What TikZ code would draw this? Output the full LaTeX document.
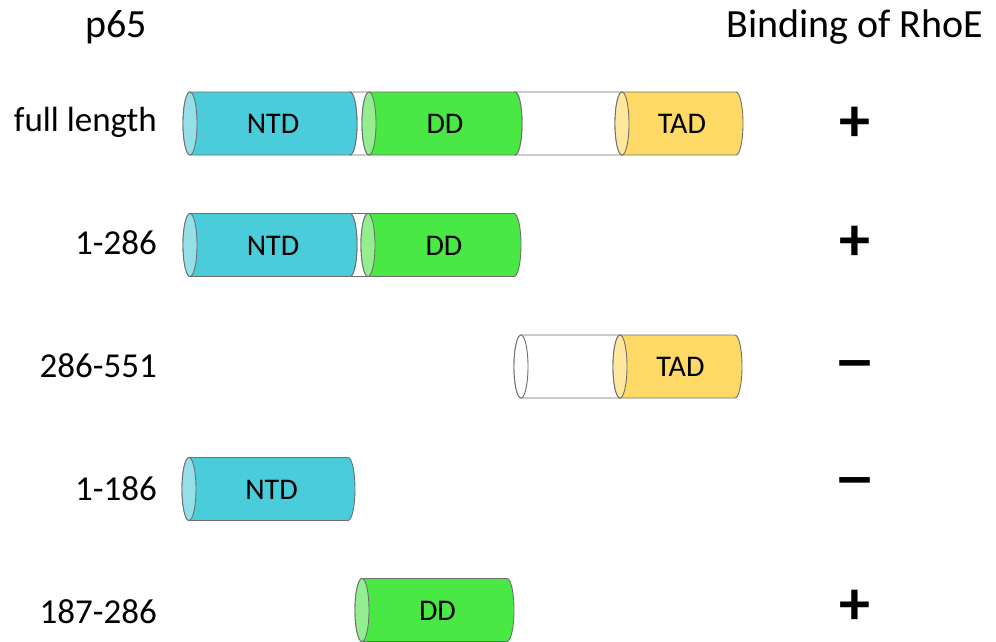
\documentclass[tikz,border=0pt]{standalone}
\usepackage{fontspec}
\setmainfont{Carlito}
\definecolor{ntdbody}{HTML}{4BCCDA}
\definecolor{ntdend}{HTML}{95DFE8}
\definecolor{ddbody}{HTML}{4AE845}
\definecolor{ddend}{HTML}{94EE90}
\definecolor{tadbody}{HTML}{FFD966}
\definecolor{tadend}{HTML}{FFE79E}
\definecolor{rim}{HTML}{6E6E6E}
\newcommand\mycyl[7]{% name, xl, xr, cy, bodycolor, endcolor, label
  \filldraw[cylline, fill=#5] (#2,-#4+31.5) -- (#3,-#4+31.5)
    arc[start angle=90, end angle=-90, x radius=7pt, y radius=31.5pt]
    -- (#2,-#4-31.5)
    arc[start angle=270, end angle=90, x radius=7pt, y radius=31.5pt] -- cycle;
  \filldraw[cylline, fill=#6] (#2,-#4) ellipse[x radius=7pt, y radius=31.5pt];
  \node[domlabel] (#1) at ({(#2+#3)/2+3},-#4-10) {#7};
}
\newcommand\widedash{\scalebox{1.35}[1.0]{–}}
\begin{document}
\begin{tikzpicture}[x=1pt,y=1pt,
  cylline/.style={draw=rim, line width=0.9pt},
  domlabel/.style={anchor=base, inner sep=0pt, font=\fontsize{30}{36}\selectfont},
  rowlabel/.style={anchor=base east, inner sep=0pt, font=\fontsize{35}{42}\selectfont},
  header/.style={anchor=base, inner sep=0pt, font=\fontsize{40}{48}\selectfont},
  plussign/.style={inner sep=0pt, font=\fontsize{62}{70}\selectfont\bfseries},
  minussign/.style={inner sep=0pt, font=\fontsize{64}{72}\selectfont\bfseries}]
\useasboundingbox (0,0) rectangle (996,-642);
% headers
\node[header] (hp65) at (116,-38) {p65};
\node[header] (hbind) at (855,-38) {Binding of RhoE};
% row labels
\node[rowlabel] (l1) at (157,-131) {full length};
\node[rowlabel] (l2) at (157,-254) {1-286};
\node[rowlabel] (l3) at (157,-377) {286-551};
\node[rowlabel] (l4) at (157,-500) {1-186};
\node[rowlabel] (l5) at (157,-623) {187-286};
% row 1
\mycyl{w1a}{350}{369}{123.5}{white}{white}{}
\mycyl{w1b}{515}{622}{123.5}{white}{white}{}
\mycyl{ntd1}{190}{350}{123.5}{ntdbody}{ntdend}{NTD}
\mycyl{dd1}{369}{515}{123.5}{ddbody}{ddend}{DD}
\mycyl{tad1}{622}{736}{123.5}{tadbody}{tadend}{TAD}
% row 2
\mycyl{w2a}{350}{368}{245}{white}{white}{}
\mycyl{ntd2}{190}{350}{245}{ntdbody}{ntdend}{NTD}
\mycyl{dd2}{368}{514}{245}{ddbody}{ddend}{DD}
% row 3
\mycyl{w3}{521}{620}{366.5}{white}{white}{}
\mycyl{tad3}{620}{735}{366.5}{tadbody}{tadend}{TAD}
% row 4
\mycyl{ntd4}{189}{348}{489}{ntdbody}{ntdend}{NTD}
% row 5
\mycyl{dd5}{362}{507}{610}{ddbody}{ddend}{DD}
% signs
\node[plussign] (s1) at (855,-124) {+};
\node[plussign] (s2) at (855,-243) {+};
\node[minussign] (s3) at (855,-371) {\widedash};
\node[minussign] (s4) at (855,-488) {\widedash};
\node[plussign] (s5) at (855,-607) {+};
\end{tikzpicture}
\end{document}
